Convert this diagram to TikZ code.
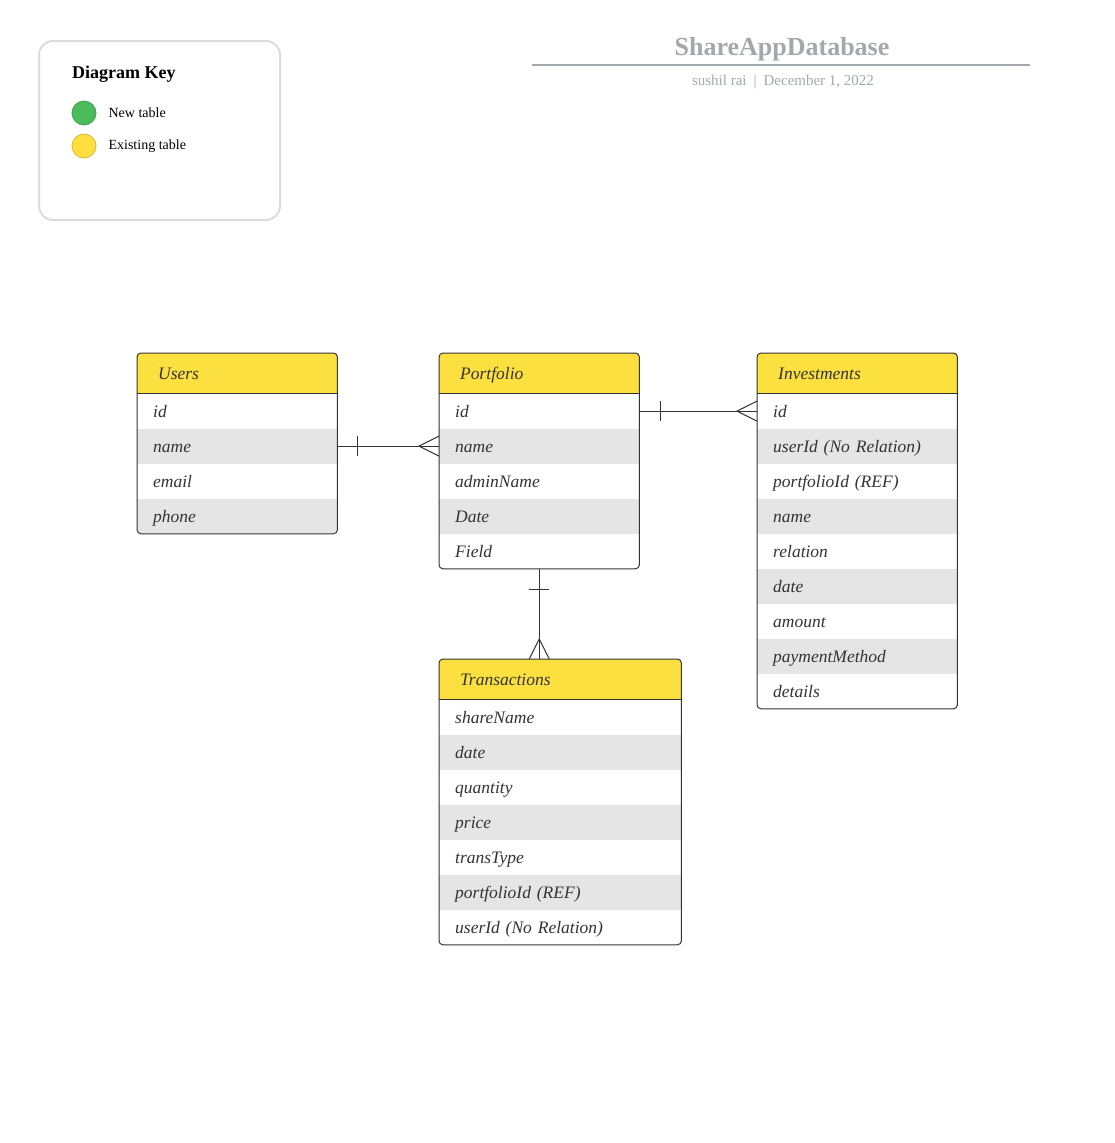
\documentclass[tikz,border=0pt]{standalone}
\usepackage{fontspec}
\setmainfont{Liberation Serif}
\usepackage{tikz}
\usetikzlibrary{positioning}
\usepackage{xcolor}
\definecolor{hdryellow}{HTML}{FCE03F}
\definecolor{rowgray}{HTML}{E5E5E5}
\definecolor{edge}{HTML}{333333}
\definecolor{titlegray}{HTML}{A3A8AD}
\definecolor{keyborder}{HTML}{DCDCDC}
\definecolor{newgreen}{HTML}{4CBB5B}
\definecolor{newgreendark}{HTML}{3FA24E}
\definecolor{oldyellow}{HTML}{FFDE3D}
\definecolor{oldyellowdark}{HTML}{D8B934}

\tikzset{
  head/.style={anchor=north west, inner xsep=21pt, inner ysep=0pt, minimum height=40pt,
    text height=17pt, text depth=4pt,
    align=left, text=edge, font=\fontsize{17.5}{21}\selectfont\itshape},
  field/.style={anchor=north west, inner xsep=16pt, inner ysep=0pt, minimum height=35pt,
    text height=17pt, text depth=4pt,
    align=left, text=edge, font=\fontsize{17.5}{21}\selectfont\itshape},
  frame/.style={draw=edge, line width=1pt, rounded corners=4pt},
  link/.style={draw=edge, line width=1pt},
  dot/.style={circle, minimum size=24pt, inner sep=0pt, line width=0.8pt},
  keytext/.style={anchor=west, inner sep=0pt, font=\fontsize{14}{16}\selectfont}
}

\begin{document}
\begin{tikzpicture}[x=1pt, y=-1pt]
  \fill[white] (0,0) rectangle (1114,1143);
  \useasboundingbox (0,0) rectangle (1114,1143);

  % key
  \draw[keyborder, line width=2pt, rounded corners=14pt] (39,41) rectangle (280,220);
  \node[anchor=west, inner sep=0pt, font=\fontsize{18}{20}\selectfont\bfseries] (keytitle) at (72,74) {Diagram Key};
  \node[dot, fill=newgreen, draw=newgreendark] (newdot) at (84,113) {};
  \node[dot, fill=oldyellow, draw=oldyellowdark] (olddot) at (84,146) {};
  \node[keytext, right=12pt of newdot] (newtext) {New table};
  \node[keytext, right=12pt of olddot] (oldtext) {Existing table};

  % title
  \node[text=titlegray, font=\fontsize{26}{30}\selectfont\bfseries] (title) at (782,49) {ShareAppDatabase};
  \draw[titlegray, line width=2pt] (532,65) -- (1030,65);
  \node[text=titlegray, font=\fontsize{15}{18}\selectfont] (byline) at (783,82)
    {sushil rai\hspace{7pt}|\hspace{7pt}December 1, 2022};

  % Users
  \begin{scope}
    \clip[rounded corners=4pt] (137,353) rectangle (337,533);
    \node[head, fill=hdryellow, text width=158pt] (users) at (137,353) {Users};
    \foreach \f [count=\i] in {id, name, email, phone} {
      \pgfmathtruncatemacro\g{100*(1-mod(\i,2))}
      \node[field, fill=rowgray!\g, text width=168pt] (users-\i) at ([yshift=-35*(\i-1)*1pt]users.south west) {\f};
    }
  \end{scope}
  \draw[frame] (users.north west) rectangle (users-4.south east);
  \draw[link] (users.south west) -- (users.south east);

  % Portfolio
  \begin{scope}
    \clip[rounded corners=4pt] (439,353) rectangle (639,568);
    \node[head, fill=hdryellow, text width=158pt] (port) at (439,353) {Portfolio};
    \foreach \f [count=\i] in {id, name, adminName, Date, Field} {
      \pgfmathtruncatemacro\g{100*(1-mod(\i,2))}
      \node[field, fill=rowgray!\g, text width=168pt] (port-\i) at ([yshift=-35*(\i-1)*1pt]port.south west) {\f};
    }
  \end{scope}
  \draw[frame] (port.north west) rectangle (port-5.south east);
  \draw[link] (port.south west) -- (port.south east);

  % Investments
  \begin{scope}
    \clip[rounded corners=4pt] (757,353) rectangle (957,708);
    \node[head, fill=hdryellow, text width=158pt] (inv) at (757,353) {Investments};
    \foreach \f [count=\i] in {id, userId (No Relation), portfolioId (REF), name, relation,
        date, amount, paymentMethod, details} {
      \pgfmathtruncatemacro\g{100*(1-mod(\i,2))}
      \node[field, fill=rowgray!\g, text width=168pt] (inv-\i) at ([yshift=-35*(\i-1)*1pt]inv.south west) {\f};
    }
  \end{scope}
  \draw[frame] (inv.north west) rectangle (inv-9.south east);
  \draw[link] (inv.south west) -- (inv.south east);

  % Transactions
  \begin{scope}
    \clip[rounded corners=4pt] (439,659) rectangle (681,944);
    \node[head, fill=hdryellow, text width=200pt] (trans) at (439,659) {Transactions};
    \foreach \f [count=\i] in {shareName, date, quantity, price, transType,
        portfolioId (REF), userId (No Relation)} {
      \pgfmathtruncatemacro\g{100*(1-mod(\i,2))}
      \node[field, fill=rowgray!\g, text width=210pt] (trans-\i) at ([yshift=-35*(\i-1)*1pt]trans.south west) {\f};
    }
  \end{scope}
  \draw[frame] (trans.north west) rectangle (trans-7.south east);
  \draw[link] (trans.south west) -- (trans.south east);

  % Users -- Portfolio
  \draw[link] (users-2.east) -- (port-2.west);
  \draw[link] ([xshift=20pt, yshift=10pt]users-2.east) -- ([xshift=20pt, yshift=-10pt]users-2.east);
  \draw[link] ([yshift=10pt]port-2.west) -- ([xshift=-20pt]port-2.west) -- ([yshift=-10pt]port-2.west);

  % Portfolio -- Investments
  \draw[link] (port-1.east) -- (inv-1.west);
  \draw[link] ([xshift=21pt, yshift=10pt]port-1.east) -- ([xshift=21pt, yshift=-10pt]port-1.east);
  \draw[link] ([yshift=10pt]inv-1.west) -- ([xshift=-20pt]inv-1.west) -- ([yshift=-10pt]inv-1.west);

  % Portfolio -- Transactions
  \coordinate (transtop) at (port-5.south |- trans.north);
  \draw[link] (port-5.south) -- (transtop);
  \draw[link] ([xshift=-10pt, yshift=-21pt]port-5.south) -- ([xshift=10pt, yshift=-21pt]port-5.south);
  \draw[link] ([xshift=-10pt]transtop) -- ([yshift=20pt]transtop) -- ([xshift=10pt]transtop);
\end{tikzpicture}
\end{document}
